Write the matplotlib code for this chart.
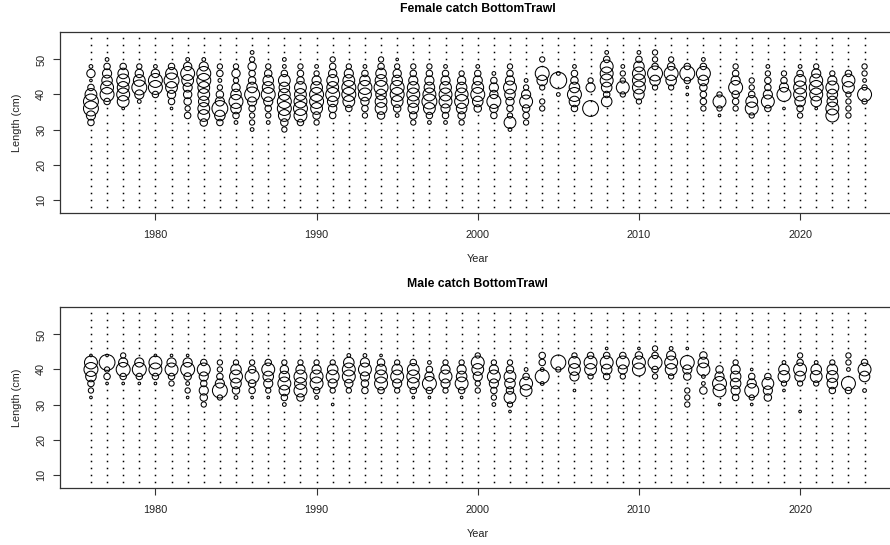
import matplotlib
matplotlib.use("Agg")
import matplotlib.pyplot as plt
import numpy as np

plt.rcParams['font.family'] = ['Liberation Sans', 'DejaVu Sans']

years = list(range(1976, 2025))
length_bins = list(range(8, 57, 2))

# proportion-like values (relative)
female_comp = {
    1976: {48: 1, 46: 5, 44: 0.5, 42: 3, 40: 10, 38: 16, 36: 16, 34: 6, 32: 3},
    1977: {50: 1, 48: 3, 46: 6, 44: 8, 42: 12, 40: 14, 38: 3},
    1978: {48: 3, 46: 8, 44: 12, 42: 10, 40: 12, 38: 10, 36: 0.5},
    1979: {48: 2, 46: 5, 44: 10, 42: 16, 40: 6, 38: 1},
    1980: {48: 1, 46: 5, 44: 14, 42: 14, 40: 3},
    1981: {48: 3, 46: 10, 44: 16, 42: 10, 40: 5, 38: 3, 36: 0.5},
    1982: {50: 1, 48: 5, 46: 14, 44: 10, 42: 6, 40: 5, 38: 4, 36: 2, 34: 3},
    1983: {50: 1, 48: 6, 46: 14, 44: 14, 42: 10, 40: 10, 38: 8, 36: 10, 34: 10, 32: 4},
    1984: {48: 2, 46: 3, 44: 1, 42: 2, 40: 4, 38: 6, 36: 18, 34: 8, 32: 3},
    1985: {48: 2, 46: 5, 44: 2, 42: 5, 40: 8, 38: 14, 36: 8, 34: 3, 32: 1},
    1986: {52: 1, 50: 2, 48: 5, 46: 3, 44: 4, 42: 8, 40: 16, 38: 6, 36: 3, 34: 2, 32: 2, 30: 1},
    1987: {48: 2, 46: 4, 44: 8, 42: 10, 40: 14, 38: 6, 36: 3, 34: 2, 32: 1},
    1988: {50: 1, 48: 1, 46: 3, 44: 10, 42: 8, 40: 10, 38: 14, 36: 14, 34: 10, 32: 4, 30: 2},
    1989: {48: 2, 46: 3, 44: 4, 42: 10, 40: 10, 38: 12, 36: 14, 34: 12, 32: 3},
    1990: {48: 1, 46: 2, 44: 6, 42: 10, 40: 14, 38: 14, 36: 10, 34: 4, 32: 2},
    1991: {50: 2, 48: 3, 46: 5, 44: 10, 42: 10, 40: 14, 38: 8, 36: 5, 34: 3},
    1992: {48: 2, 46: 6, 44: 10, 42: 14, 40: 14, 38: 10, 36: 3},
    1993: {48: 1, 46: 3, 44: 8, 42: 14, 40: 12, 38: 5, 36: 3, 34: 2},
    1994: {50: 2, 48: 3, 46: 8, 44: 10, 42: 14, 40: 8, 38: 10, 36: 10, 34: 4},
    1995: {50: 0.5, 48: 2, 46: 5, 44: 8, 42: 14, 40: 14, 38: 10, 36: 4, 34: 1},
    1996: {48: 2, 46: 3, 44: 6, 42: 10, 40: 12, 38: 10, 36: 8, 34: 4, 32: 2},
    1997: {48: 2, 46: 3, 44: 6, 42: 8, 40: 12, 38: 16, 36: 10, 34: 3, 32: 1},
    1998: {48: 1, 46: 3, 44: 6, 42: 10, 40: 12, 38: 12, 36: 6, 34: 3, 32: 1},
    1999: {46: 2, 44: 5, 42: 8, 40: 12, 38: 14, 36: 8, 34: 4, 32: 2},
    2000: {48: 1, 46: 3, 44: 6, 42: 10, 40: 14, 38: 8, 36: 4},
    2001: {46: 1, 44: 3, 42: 6, 40: 5, 38: 14, 36: 5, 34: 3},
    2002: {48: 2, 46: 3, 44: 6, 42: 12, 40: 8, 38: 5, 36: 3, 34: 2, 32: 10, 30: 1},
    2003: {44: 1, 42: 2, 40: 6, 38: 12, 36: 4, 34: 3, 32: 2},
    2004: {50: 2, 46: 14, 44: 8, 42: 2, 38: 2, 36: 2},
    2005: {46: 1, 44: 20, 40: 1},
    2006: {48: 1, 46: 3, 44: 4, 42: 8, 40: 14, 38: 8, 36: 3},
    2007: {44: 2, 42: 6, 36: 18},
    2008: {52: 1, 50: 3, 48: 12, 46: 12, 44: 12, 42: 8, 40: 3, 38: 8},
    2009: {48: 1, 46: 2, 44: 2, 42: 12, 40: 2},
    2010: {52: 1, 50: 3, 48: 8, 46: 12, 44: 12, 42: 12, 40: 8, 38: 2},
    2011: {52: 2, 50: 2, 48: 3, 46: 16, 44: 8, 42: 2},
    2012: {50: 2, 48: 4, 46: 14, 44: 8, 42: 2},
    2013: {48: 3, 46: 16, 44: 3, 42: 0.5, 40: 0.5},
    2014: {50: 1, 48: 3, 46: 14, 44: 8, 42: 4, 40: 3, 38: 3, 36: 2},
    2015: {40: 2, 38: 12, 36: 2, 34: 0.5},
    2016: {48: 2, 46: 3, 44: 6, 42: 14, 40: 4, 38: 3, 36: 2},
    2017: {44: 2, 42: 2, 40: 3, 38: 10, 36: 12, 34: 2},
    2018: {48: 1, 46: 2, 44: 3, 42: 3, 40: 6, 38: 12, 36: 3},
    2019: {46: 2, 44: 3, 42: 6, 40: 14, 36: 0.5},
    2020: {48: 1, 46: 3, 44: 10, 42: 12, 40: 12, 38: 8, 36: 3, 34: 2},
    2021: {48: 2, 46: 6, 44: 12, 42: 14, 40: 12, 38: 8, 36: 0.5},
    2022: {46: 2, 44: 6, 42: 12, 40: 8, 38: 8, 36: 12, 34: 12},
    2023: {46: 3, 44: 12, 42: 10, 40: 2, 38: 2, 36: 2, 34: 2},
    2024: {48: 2, 46: 2, 44: 1, 42: 2, 40: 14, 38: 2},
}

male_comp = {
    1976: {44: 0.5, 42: 12, 40: 14, 38: 8, 36: 3, 34: 2, 32: 0.5},
    1977: {44: 0.5, 42: 18, 40: 2, 38: 3, 36: 0.5},
    1978: {44: 2, 42: 6, 40: 14, 38: 3, 36: 0.5},
    1979: {42: 6, 40: 14, 38: 3, 36: 0.5},
    1980: {44: 0.5, 42: 12, 40: 12, 38: 3, 36: 0.5},
    1981: {44: 0.5, 42: 6, 40: 12, 38: 3, 36: 2},
    1982: {44: 0.5, 42: 6, 40: 14, 38: 4, 36: 1, 34: 2, 32: 0.5},
    1983: {42: 3, 40: 12, 38: 6, 36: 3, 34: 6, 32: 4, 30: 2},
    1984: {42: 2, 40: 2, 38: 3, 36: 6, 34: 16, 32: 2},
    1985: {42: 2, 40: 8, 38: 12, 36: 8, 34: 4, 32: 1},
    1986: {42: 2, 40: 4, 38: 14, 36: 4, 34: 3, 32: 0.5},
    1987: {42: 3, 40: 12, 38: 8, 36: 6, 34: 2, 32: 0.5},
    1988: {42: 2, 40: 5, 38: 8, 36: 12, 34: 8, 32: 3, 30: 1},
    1989: {42: 2, 40: 6, 38: 12, 36: 10, 34: 12, 32: 4},
    1990: {42: 2, 40: 6, 38: 12, 36: 12, 34: 3, 32: 1},
    1991: {42: 2, 40: 8, 38: 12, 36: 6, 34: 2, 30: 0.5},
    1992: {44: 1, 42: 8, 40: 12, 38: 12, 36: 5, 34: 2},
    1993: {44: 1, 42: 6, 40: 12, 38: 6, 36: 4, 34: 3},
    1994: {44: 0.5, 42: 4, 40: 8, 38: 12, 36: 12, 34: 3},
    1995: {42: 2, 40: 8, 38: 12, 36: 6, 34: 2},
    1996: {42: 3, 40: 10, 38: 12, 36: 10, 34: 3, 32: 0.5},
    1997: {42: 1, 40: 3, 38: 6, 36: 14, 34: 3, 32: 0.5},
    1998: {42: 2, 40: 6, 38: 12, 36: 6, 34: 2},
    1999: {42: 2, 40: 6, 38: 8, 36: 12, 34: 3, 32: 0.5},
    2000: {44: 2, 42: 12, 40: 10, 38: 6, 36: 2, 34: 2},
    2001: {42: 2, 40: 6, 38: 12, 36: 6, 34: 3, 32: 2, 30: 1},
    2002: {42: 2, 40: 4, 38: 10, 36: 8, 34: 4, 32: 10, 30: 2, 28: 0.5},
    2003: {40: 1, 38: 3, 36: 12, 34: 10},
    2004: {44: 3, 42: 3, 40: 1, 38: 14, 36: 1},
    2005: {42: 16, 40: 2},
    2006: {44: 2, 42: 10, 40: 10, 38: 6, 34: 0.5},
    2007: {44: 3, 42: 12, 40: 10, 38: 2},
    2008: {46: 0.5, 44: 3, 42: 12, 40: 8, 38: 3},
    2009: {44: 3, 42: 12, 40: 6, 38: 2},
    2010: {46: 0.5, 44: 4, 42: 12, 40: 12},
    2011: {46: 2, 44: 3, 42: 14, 40: 3, 38: 2},
    2012: {46: 1, 44: 6, 42: 12, 40: 10, 38: 2},
    2013: {46: 0.5, 42: 14, 40: 6, 38: 4, 34: 2, 32: 2, 30: 2},
    2014: {44: 4, 42: 8, 40: 12, 38: 1, 36: 1, 34: 4},
    2015: {40: 4, 38: 6, 36: 14, 34: 12, 30: 0.5},
    2016: {42: 2, 40: 6, 38: 8, 36: 8, 34: 6, 32: 3},
    2017: {40: 0.5, 38: 3, 36: 6, 34: 14, 32: 2, 30: 0.5},
    2018: {38: 3, 36: 10, 34: 6, 32: 4},
    2019: {42: 1, 40: 8, 38: 10, 36: 2, 34: 0.5},
    2020: {44: 2, 42: 3, 40: 12, 38: 8, 36: 2, 28: 0.5},
    2021: {42: 1, 40: 8, 38: 10, 36: 2},
    2022: {42: 2, 40: 8, 38: 10, 36: 8, 34: 3},
    2023: {44: 2, 42: 2, 40: 1, 36: 14, 34: 3},
    2024: {42: 3, 40: 12, 38: 8, 34: 1},
}

titles = ["Female catch BottomTrawl", "Male catch BottomTrawl"]
xticks = [1980, 1990, 2000, 2010, 2020]
yticks = [10, 20, 30, 40, 50]

W, H = 890, 545
fig = plt.figure(figsize=(W / 100, H / 100), dpi=100)

vmax = 20.0
max_diam_pt = 12.0
txt_col = "#222222"

panels = [
    (female_comp, (60, 31.7, 895.5, 213.3)),
    (male_comp, (60, 306.7, 895.5, 488.3)),
]

for (comp, (l, t, r, b)), title in zip(panels, titles):
    ax = fig.add_axes([l / W, 1 - b / H, (r - l) / W, (b - t) / H])
    bx, by, bs, zx, zy = [], [], [], [], []
    for yr in years:
        d = comp.get(yr, {})
        for L in length_bins:
            v = d.get(L, 0)
            if v > 0:
                bx.append(yr); by.append(L)
                bs.append((max_diam_pt * np.sqrt(v / vmax)) ** 2)
            else:
                zx.append(yr); zy.append(L)
    ax.plot(zx, zy, linestyle='none', marker='s', markersize=1.1, markeredgewidth=0,
            color='black', zorder=2)
    ax.scatter(bx, by, s=bs, facecolors='none', edgecolors='black', linewidths=0.75, zorder=3)
    x0, x1 = min(years), max(years)
    ax.set_xlim(x0 - 0.04 * (x1 - x0), x1 + 0.04 * (x1 - x0))
    y0, y1 = min(length_bins), max(length_bins)
    ax.set_ylim(y0 - 0.04 * (y1 - y0), y1 + 0.04 * (y1 - y0))
    ax.set_xticks(xticks)
    ax.set_yticks(yticks)
    ax.set_yticklabels([str(v) for v in yticks], rotation=90, va='center')
    ax.tick_params(axis='both', direction='out', length=5, width=0.8, colors='#333333',
                   labelsize=7.8, labelcolor=txt_col)
    ax.tick_params(axis='x', pad=7)
    ax.tick_params(axis='y', pad=5)
    for sp in ax.spines.values():
        sp.set_linewidth(0.9)
        sp.set_color('#333333')
    ax.set_title(title, fontsize=8.8, fontweight='bold', pad=14, color='black')
    ax.set_xlabel("Year", fontsize=7.8, color=txt_col, labelpad=10)
    ax.set_ylabel("Length (cm)", fontsize=7.8, color=txt_col, labelpad=10)

fig.savefig("out.png", dpi=100)
